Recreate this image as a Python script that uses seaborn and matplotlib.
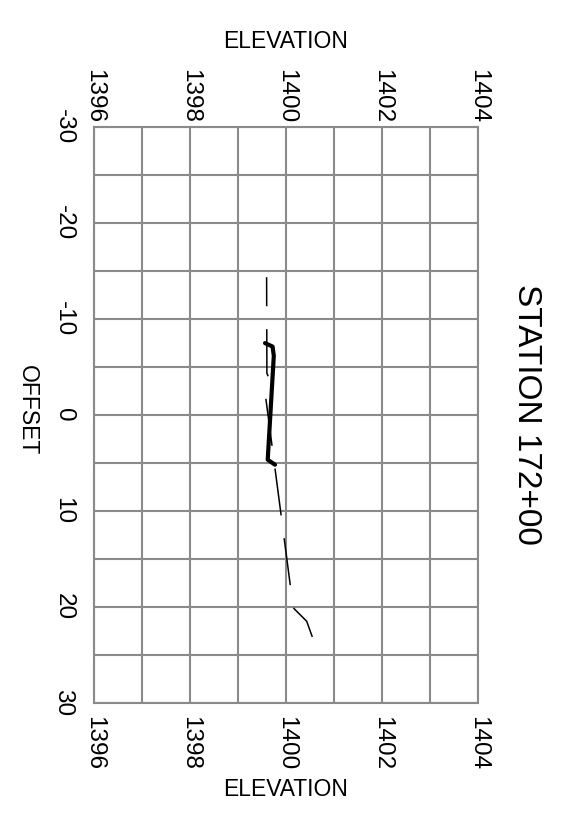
import matplotlib
matplotlib.use("Agg")
import matplotlib.pyplot as plt
import seaborn as sns
import numpy as np
import pandas as pd

# existing ground (thin dashed) and proposed section (thick)
ground_offset = [-14.34, -4.32, -3.90, -1.88, 18.33, 20.20, 21.53, 23.16]
ground_elev = [1399.596, 1399.602, 1399.638, 1399.575, 1400.104, 1400.165, 1400.431, 1400.548]

design_offset = [-7.47, -7.11, -6.15, 4.69, 5.21]
design_elev = [1399.563, 1399.720, 1399.746, 1399.619, 1399.771]

elev_ticks = [1396, 1398, 1400, 1402, 1404]
offset_ticks = [-30, -20, -10, 0, 10, 20, 30]
title = "STATION 172+00"

sns.set_style("white")
plt.rcParams['font.family'] = ['Liberation Sans', 'DejaVu Sans']
plt.rcParams['axes.unicode_minus'] = False
plt.rcParams['text.color'] = 'black'
plt.rcParams['xtick.color'] = 'black'
plt.rcParams['ytick.color'] = 'black'

fig = plt.figure(figsize=(5.71, 8.18), dpi=100)
ax = fig.add_axes([94 / 571, 1 - 702.5 / 818, 384 / 571, 575.5 / 818])

df_ground = pd.DataFrame({'elev': ground_elev, 'offset': ground_offset})
df_design = pd.DataFrame({'elev': design_elev, 'offset': design_offset})

sns.lineplot(data=df_ground, x='elev', y='offset', sort=False, estimator=None,
             color='black', linewidth=1.1, linestyle=(12, (31, 15)), ax=ax)
sns.lineplot(data=df_design, x='elev', y='offset', sort=False, estimator=None,
             color='black', linewidth=3.0, ax=ax)

ax.set_xlim(1396, 1404)
ax.set_ylim(30, -30)
ax.set_xticks(elev_ticks)
ax.set_xticks(np.arange(1396, 1405, 1), minor=True)
ax.set_yticks(offset_ticks)
ax.set_yticks(np.arange(-30, 31, 5), minor=True)
ax.grid(True, which='both', color='#8a8a8a', linewidth=1.5)
ax.set_axisbelow(True)
for s in ax.spines.values():
    s.set_color('#8a8a8a')
    s.set_linewidth(1.5)

ax.set_xlabel('')
ax.set_ylabel('')
ax.tick_params(axis='both', which='both', length=0, labelsize=17.5, labelcolor='black')
ax.tick_params(axis='x', labelrotation=-90, pad=10)
ax.tick_params(axis='y', labelrotation=-90, pad=14)
for lab in ax.get_yticklabels():
    lab.set_va('center')

# top elevation labels sit closer to the frame than the bottom ones
top = ax.secondary_xaxis('top')
top.set_xticks(elev_ticks)
top.tick_params(length=0, pad=3, labelsize=17.5, labelrotation=-90, labelcolor='black')
top.spines['top'].set_visible(False)

fig.text(286 / 571, 1 - 41 / 818, 'ELEVATION', ha='center', va='center', fontsize=16.5)
fig.text(286 / 571, 1 - 789 / 818, 'ELEVATION', ha='center', va='center', fontsize=16.5)
fig.text(27 / 571, 1 - 410 / 818, 'OFFSET', ha='center', va='center', fontsize=16.5, rotation=-90)
fig.text(526 / 571, 1 - 414 / 818, title, ha='center', va='center', fontsize=24, rotation=-90)

fig.savefig('out.png', dpi=100)
